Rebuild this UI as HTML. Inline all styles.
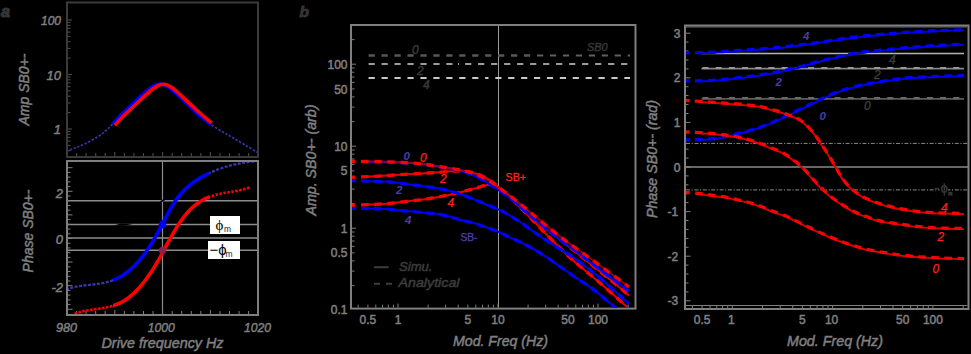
<!DOCTYPE html>
<html><head><meta charset="utf-8"><style>
html,body{margin:0;padding:0;background:#000;width:971px;height:354px;overflow:hidden;}
svg{display:block;}
text{font-family:"Liberation Sans",sans-serif;}
</style></head><body>
<svg width="971" height="354" viewBox="0 0 971 354">
<rect x="0" y="0" width="971" height="354" fill="#000"/>
<rect x="67" y="2.5" width="191" height="154.5" fill="none" stroke="#3a3a3a" stroke-width="2"/>
<line x1="68.0" y1="150.7" x2="70.5" y2="150.7" stroke="#4a4a4a" stroke-width="1.1"/>
<line x1="68.0" y1="145.4" x2="70.5" y2="145.4" stroke="#4a4a4a" stroke-width="1.1"/>
<line x1="68.0" y1="141.1" x2="70.5" y2="141.1" stroke="#4a4a4a" stroke-width="1.1"/>
<line x1="68.0" y1="137.4" x2="70.5" y2="137.4" stroke="#4a4a4a" stroke-width="1.1"/>
<line x1="68.0" y1="134.3" x2="70.5" y2="134.3" stroke="#4a4a4a" stroke-width="1.1"/>
<line x1="68.0" y1="131.5" x2="70.5" y2="131.5" stroke="#4a4a4a" stroke-width="1.1"/>
<line x1="68.0" y1="129.0" x2="72.0" y2="129.0" stroke="#4a4a4a" stroke-width="1.1"/>
<line x1="68.0" y1="112.6" x2="70.5" y2="112.6" stroke="#4a4a4a" stroke-width="1.1"/>
<line x1="68.0" y1="103.0" x2="70.5" y2="103.0" stroke="#4a4a4a" stroke-width="1.1"/>
<line x1="68.0" y1="96.2" x2="70.5" y2="96.2" stroke="#4a4a4a" stroke-width="1.1"/>
<line x1="68.0" y1="90.9" x2="70.5" y2="90.9" stroke="#4a4a4a" stroke-width="1.1"/>
<line x1="68.0" y1="86.6" x2="70.5" y2="86.6" stroke="#4a4a4a" stroke-width="1.1"/>
<line x1="68.0" y1="82.9" x2="70.5" y2="82.9" stroke="#4a4a4a" stroke-width="1.1"/>
<line x1="68.0" y1="79.8" x2="70.5" y2="79.8" stroke="#4a4a4a" stroke-width="1.1"/>
<line x1="68.0" y1="77.0" x2="70.5" y2="77.0" stroke="#4a4a4a" stroke-width="1.1"/>
<line x1="68.0" y1="74.5" x2="72.0" y2="74.5" stroke="#4a4a4a" stroke-width="1.1"/>
<line x1="68.0" y1="58.1" x2="70.5" y2="58.1" stroke="#4a4a4a" stroke-width="1.1"/>
<line x1="68.0" y1="48.5" x2="70.5" y2="48.5" stroke="#4a4a4a" stroke-width="1.1"/>
<line x1="68.0" y1="41.7" x2="70.5" y2="41.7" stroke="#4a4a4a" stroke-width="1.1"/>
<line x1="68.0" y1="36.4" x2="70.5" y2="36.4" stroke="#4a4a4a" stroke-width="1.1"/>
<line x1="68.0" y1="32.1" x2="70.5" y2="32.1" stroke="#4a4a4a" stroke-width="1.1"/>
<line x1="68.0" y1="28.4" x2="70.5" y2="28.4" stroke="#4a4a4a" stroke-width="1.1"/>
<line x1="68.0" y1="25.3" x2="70.5" y2="25.3" stroke="#4a4a4a" stroke-width="1.1"/>
<line x1="68.0" y1="22.5" x2="70.5" y2="22.5" stroke="#4a4a4a" stroke-width="1.1"/>
<line x1="68.0" y1="20.0" x2="72.0" y2="20.0" stroke="#4a4a4a" stroke-width="1.1"/>
<line x1="76.6" y1="156.0" x2="76.6" y2="153.0" stroke="#4a4a4a" stroke-width="1.1"/>
<line x1="86.1" y1="156.0" x2="86.1" y2="153.0" stroke="#4a4a4a" stroke-width="1.1"/>
<line x1="95.7" y1="156.0" x2="95.7" y2="153.0" stroke="#4a4a4a" stroke-width="1.1"/>
<line x1="105.2" y1="156.0" x2="105.2" y2="153.0" stroke="#4a4a4a" stroke-width="1.1"/>
<line x1="114.8" y1="156.0" x2="114.8" y2="152.0" stroke="#4a4a4a" stroke-width="1.1"/>
<line x1="124.4" y1="156.0" x2="124.4" y2="153.0" stroke="#4a4a4a" stroke-width="1.1"/>
<line x1="133.9" y1="156.0" x2="133.9" y2="153.0" stroke="#4a4a4a" stroke-width="1.1"/>
<line x1="143.5" y1="156.0" x2="143.5" y2="153.0" stroke="#4a4a4a" stroke-width="1.1"/>
<line x1="153.0" y1="156.0" x2="153.0" y2="153.0" stroke="#4a4a4a" stroke-width="1.1"/>
<line x1="162.6" y1="156.0" x2="162.6" y2="152.0" stroke="#4a4a4a" stroke-width="1.1"/>
<line x1="172.2" y1="156.0" x2="172.2" y2="153.0" stroke="#4a4a4a" stroke-width="1.1"/>
<line x1="181.7" y1="156.0" x2="181.7" y2="153.0" stroke="#4a4a4a" stroke-width="1.1"/>
<line x1="191.3" y1="156.0" x2="191.3" y2="153.0" stroke="#4a4a4a" stroke-width="1.1"/>
<line x1="200.8" y1="156.0" x2="200.8" y2="153.0" stroke="#4a4a4a" stroke-width="1.1"/>
<line x1="210.4" y1="156.0" x2="210.4" y2="152.0" stroke="#4a4a4a" stroke-width="1.1"/>
<line x1="220.0" y1="156.0" x2="220.0" y2="153.0" stroke="#4a4a4a" stroke-width="1.1"/>
<line x1="229.5" y1="156.0" x2="229.5" y2="153.0" stroke="#4a4a4a" stroke-width="1.1"/>
<line x1="239.1" y1="156.0" x2="239.1" y2="153.0" stroke="#4a4a4a" stroke-width="1.1"/>
<line x1="248.6" y1="156.0" x2="248.6" y2="153.0" stroke="#4a4a4a" stroke-width="1.1"/>
<clipPath id="ca1"><rect x="68" y="3.5" width="189" height="152.5"/></clipPath>
<g clip-path="url(#ca1)">
<path d="M66.0 151.3 C67.5 150.8 71.8 149.3 75.0 148.0 C78.2 146.7 81.6 145.6 85.4 143.7 C89.2 141.8 94.6 138.8 98.0 136.6 C101.4 134.4 103.4 132.8 106.0 130.5 C108.6 128.2 111.0 125.6 113.5 123.0 C116.0 120.4 118.2 117.8 121.0 115.0 C123.8 112.2 127.2 109.2 130.0 106.5 C132.8 103.8 135.5 101.3 138.0 99.0 C140.5 96.7 143.0 94.2 145.0 92.5 C147.0 90.8 148.5 89.6 150.0 88.5 C151.5 87.4 152.7 86.5 154.0 85.8 C155.3 85.1 156.8 84.6 158.0 84.3 C159.2 84.0 160.0 83.9 161.0 84.0 C162.0 84.1 162.8 84.3 164.0 84.8 C165.2 85.3 166.7 86.0 168.0 86.8 C169.3 87.6 170.3 88.4 172.0 89.8 C173.7 91.2 175.7 93.1 178.0 95.3 C180.3 97.5 183.3 100.3 186.0 102.8 C188.7 105.3 191.3 107.9 194.0 110.3 C196.7 112.7 199.3 115.0 202.0 117.3 C204.7 119.5 206.7 121.4 210.0 123.8 C213.3 126.2 218.2 129.2 222.0 131.5 C225.8 133.8 228.7 135.2 232.5 137.5 C236.3 139.8 240.6 142.4 245.0 145.0 C249.4 147.6 256.7 151.9 259.0 153.3" fill="none" stroke="#3434a8" stroke-width="1.7" stroke-dasharray="2.5 1.5" />
<path d="M112.5 124.0 C112.7 123.8 112.1 124.5 113.5 123.0 C114.9 121.5 118.2 117.8 121.0 115.0 C123.8 112.2 127.2 109.2 130.0 106.5 C132.8 103.8 135.5 101.3 138.0 99.0 C140.5 96.7 143.0 94.2 145.0 92.5 C147.0 90.8 148.5 89.6 150.0 88.5 C151.5 87.4 152.7 86.5 154.0 85.8 C155.3 85.1 156.8 84.6 158.0 84.3 C159.2 84.0 160.0 83.9 161.0 84.0 C162.0 84.1 162.8 84.3 164.0 84.8 C165.2 85.3 166.7 86.0 168.0 86.8 C169.3 87.6 170.3 88.4 172.0 89.8 C173.7 91.2 175.7 93.1 178.0 95.3 C180.3 97.5 183.3 100.3 186.0 102.8 C188.7 105.3 191.3 107.9 194.0 110.3 C196.7 112.7 199.3 115.0 202.0 117.3 C204.7 119.5 208.6 122.7 210.0 123.8 C211.4 124.9 210.4 124.1 210.5 124.1" fill="none" stroke="#0000ff" stroke-width="3.6" />
<path d="M114.7 125.3 C115.0 125.0 115.1 125.0 116.7 123.3 C118.3 121.6 121.5 118.0 124.2 115.3 C127.0 112.5 130.4 109.5 133.2 106.8 C136.0 104.1 138.7 101.6 141.2 99.3 C143.7 97.0 146.2 94.5 148.2 92.8 C150.2 91.0 151.7 89.9 153.2 88.8 C154.7 87.7 155.9 86.8 157.2 86.1 C158.5 85.4 160.0 84.9 161.2 84.6 C162.4 84.3 163.2 84.2 164.2 84.3 C165.2 84.4 166.0 84.6 167.2 85.1 C168.4 85.6 169.9 86.3 171.2 87.1 C172.5 87.9 173.5 88.7 175.2 90.1 C176.9 91.5 178.9 93.4 181.2 95.6 C183.5 97.8 186.5 100.6 189.2 103.1 C191.9 105.6 194.5 108.2 197.2 110.6 C199.9 113.0 202.8 115.6 205.2 117.6 C207.6 119.6 210.6 122.0 211.7 122.9" fill="none" stroke="#ff0000" stroke-width="3.6" />
</g>
<text x="61.0" y="24.5" font-size="13" fill="#7f7f7f" text-anchor="end" stroke="#7f7f7f" stroke-width="0.5" font-style="italic" textLength="20.0" lengthAdjust="spacingAndGlyphs">100</text>
<text x="61.0" y="79.5" font-size="13" fill="#7f7f7f" text-anchor="end" stroke="#7f7f7f" stroke-width="0.5" font-style="italic">10</text>
<text x="61.0" y="134.0" font-size="13" fill="#7f7f7f" text-anchor="end" stroke="#7f7f7f" stroke-width="0.5" font-style="italic">1</text>
<text x="29.0" y="89.5" font-size="14" fill="#7f7f7f" text-anchor="middle" stroke="#7f7f7f" stroke-width="0.5" font-style="italic" transform="rotate(-90 29.0 89.5)">Amp SB0+-</text>
<text x="1.0" y="16.8" font-size="16" fill="#353535" text-anchor="start" stroke="#353535" stroke-width="1.2" font-style="italic" font-weight="bold">a</text>
<rect x="67" y="161" width="191" height="154" fill="none" stroke="#7f7f7f" stroke-width="2"/>
<line x1="68.0" y1="200.8" x2="257.0" y2="200.8" stroke="#8c8c8c" stroke-width="1.5"/>
<line x1="68.0" y1="224.6" x2="257.0" y2="224.6" stroke="#8c8c8c" stroke-width="1.5"/>
<line x1="68.0" y1="238.1" x2="257.0" y2="238.1" stroke="#8c8c8c" stroke-width="1.5"/>
<line x1="68.0" y1="250.3" x2="257.0" y2="250.3" stroke="#8c8c8c" stroke-width="1.5"/>
<line x1="162.5" y1="162.0" x2="162.5" y2="314.0" stroke="#8c8c8c" stroke-width="1.2"/>
<line x1="68.0" y1="309.3" x2="72.5" y2="309.3" stroke="#7f7f7f" stroke-width="1"/>
<line x1="68.0" y1="304.6" x2="70.5" y2="304.6" stroke="#7f7f7f" stroke-width="1"/>
<line x1="68.0" y1="299.9" x2="70.5" y2="299.9" stroke="#7f7f7f" stroke-width="1"/>
<line x1="68.0" y1="295.1" x2="70.5" y2="295.1" stroke="#7f7f7f" stroke-width="1"/>
<line x1="68.0" y1="290.4" x2="70.5" y2="290.4" stroke="#7f7f7f" stroke-width="1"/>
<line x1="68.0" y1="285.7" x2="72.5" y2="285.7" stroke="#7f7f7f" stroke-width="1"/>
<line x1="68.0" y1="281.0" x2="70.5" y2="281.0" stroke="#7f7f7f" stroke-width="1"/>
<line x1="68.0" y1="276.3" x2="70.5" y2="276.3" stroke="#7f7f7f" stroke-width="1"/>
<line x1="68.0" y1="271.5" x2="70.5" y2="271.5" stroke="#7f7f7f" stroke-width="1"/>
<line x1="68.0" y1="266.8" x2="70.5" y2="266.8" stroke="#7f7f7f" stroke-width="1"/>
<line x1="68.0" y1="262.1" x2="72.5" y2="262.1" stroke="#7f7f7f" stroke-width="1"/>
<line x1="68.0" y1="257.4" x2="70.5" y2="257.4" stroke="#7f7f7f" stroke-width="1"/>
<line x1="68.0" y1="252.7" x2="70.5" y2="252.7" stroke="#7f7f7f" stroke-width="1"/>
<line x1="68.0" y1="247.9" x2="70.5" y2="247.9" stroke="#7f7f7f" stroke-width="1"/>
<line x1="68.0" y1="243.2" x2="70.5" y2="243.2" stroke="#7f7f7f" stroke-width="1"/>
<line x1="68.0" y1="238.5" x2="72.5" y2="238.5" stroke="#7f7f7f" stroke-width="1"/>
<line x1="68.0" y1="233.8" x2="70.5" y2="233.8" stroke="#7f7f7f" stroke-width="1"/>
<line x1="68.0" y1="229.1" x2="70.5" y2="229.1" stroke="#7f7f7f" stroke-width="1"/>
<line x1="68.0" y1="224.3" x2="70.5" y2="224.3" stroke="#7f7f7f" stroke-width="1"/>
<line x1="68.0" y1="219.6" x2="70.5" y2="219.6" stroke="#7f7f7f" stroke-width="1"/>
<line x1="68.0" y1="214.9" x2="72.5" y2="214.9" stroke="#7f7f7f" stroke-width="1"/>
<line x1="68.0" y1="210.2" x2="70.5" y2="210.2" stroke="#7f7f7f" stroke-width="1"/>
<line x1="68.0" y1="205.5" x2="70.5" y2="205.5" stroke="#7f7f7f" stroke-width="1"/>
<line x1="68.0" y1="200.7" x2="70.5" y2="200.7" stroke="#7f7f7f" stroke-width="1"/>
<line x1="68.0" y1="196.0" x2="70.5" y2="196.0" stroke="#7f7f7f" stroke-width="1"/>
<line x1="68.0" y1="191.3" x2="72.5" y2="191.3" stroke="#7f7f7f" stroke-width="1"/>
<line x1="68.0" y1="186.6" x2="70.5" y2="186.6" stroke="#7f7f7f" stroke-width="1"/>
<line x1="68.0" y1="181.9" x2="70.5" y2="181.9" stroke="#7f7f7f" stroke-width="1"/>
<line x1="68.0" y1="177.1" x2="70.5" y2="177.1" stroke="#7f7f7f" stroke-width="1"/>
<line x1="68.0" y1="172.4" x2="70.5" y2="172.4" stroke="#7f7f7f" stroke-width="1"/>
<line x1="68.0" y1="167.7" x2="72.5" y2="167.7" stroke="#7f7f7f" stroke-width="1"/>
<line x1="76.6" y1="314.0" x2="76.6" y2="311.0" stroke="#7f7f7f" stroke-width="1"/>
<line x1="86.1" y1="314.0" x2="86.1" y2="311.0" stroke="#7f7f7f" stroke-width="1"/>
<line x1="95.7" y1="314.0" x2="95.7" y2="311.0" stroke="#7f7f7f" stroke-width="1"/>
<line x1="105.2" y1="314.0" x2="105.2" y2="311.0" stroke="#7f7f7f" stroke-width="1"/>
<line x1="114.8" y1="314.0" x2="114.8" y2="310.0" stroke="#7f7f7f" stroke-width="1"/>
<line x1="124.4" y1="314.0" x2="124.4" y2="311.0" stroke="#7f7f7f" stroke-width="1"/>
<line x1="133.9" y1="314.0" x2="133.9" y2="311.0" stroke="#7f7f7f" stroke-width="1"/>
<line x1="143.5" y1="314.0" x2="143.5" y2="311.0" stroke="#7f7f7f" stroke-width="1"/>
<line x1="153.0" y1="314.0" x2="153.0" y2="311.0" stroke="#7f7f7f" stroke-width="1"/>
<line x1="162.6" y1="314.0" x2="162.6" y2="310.0" stroke="#7f7f7f" stroke-width="1"/>
<line x1="172.2" y1="314.0" x2="172.2" y2="311.0" stroke="#7f7f7f" stroke-width="1"/>
<line x1="181.7" y1="314.0" x2="181.7" y2="311.0" stroke="#7f7f7f" stroke-width="1"/>
<line x1="191.3" y1="314.0" x2="191.3" y2="311.0" stroke="#7f7f7f" stroke-width="1"/>
<line x1="200.8" y1="314.0" x2="200.8" y2="311.0" stroke="#7f7f7f" stroke-width="1"/>
<line x1="210.4" y1="314.0" x2="210.4" y2="310.0" stroke="#7f7f7f" stroke-width="1"/>
<line x1="220.0" y1="314.0" x2="220.0" y2="311.0" stroke="#7f7f7f" stroke-width="1"/>
<line x1="229.5" y1="314.0" x2="229.5" y2="311.0" stroke="#7f7f7f" stroke-width="1"/>
<line x1="239.1" y1="314.0" x2="239.1" y2="311.0" stroke="#7f7f7f" stroke-width="1"/>
<line x1="248.6" y1="314.0" x2="248.6" y2="311.0" stroke="#7f7f7f" stroke-width="1"/>
<clipPath id="ca2"><rect x="68" y="162" width="189" height="152"/></clipPath>
<g clip-path="url(#ca2)">
<path d="M66.0 289.6 C66.5 289.4 68.0 288.8 69.0 288.5 C70.0 288.2 71.0 287.9 72.0 287.6 C73.0 287.4 74.0 287.2 75.0 286.9 C76.0 286.7 77.0 286.5 78.0 286.4 C79.0 286.2 80.0 286.0 81.0 285.9 C82.0 285.7 83.0 285.6 84.0 285.5 C85.0 285.4 86.0 285.3 87.0 285.2 C88.0 285.0 89.0 284.9 90.0 284.8 C91.0 284.7 92.0 284.6 93.0 284.5 C94.0 284.4 95.0 284.3 96.0 284.2 C97.0 284.0 98.0 283.9 99.0 283.7 C100.0 283.6 101.0 283.4 102.0 283.2 C103.0 283.1 104.0 282.9 105.0 282.6 C106.0 282.4 107.0 282.2 108.0 281.9 C109.0 281.6 110.0 281.3 111.0 281.0 C112.0 280.6 113.4 280.1 114.0 279.8 C114.6 279.6 114.4 279.6 114.5 279.6" fill="none" stroke="#3838a8" stroke-width="2.3" stroke-dasharray="3 1.5" />
<path d="M208.0 173.8 C208.3 173.6 209.2 173.2 210.0 172.8 C210.8 172.4 212.0 171.9 213.0 171.4 C214.0 171.0 215.0 170.6 216.0 170.2 C217.0 169.8 218.0 169.4 219.0 169.0 C220.0 168.7 221.0 168.3 222.0 168.0 C223.0 167.6 224.0 167.3 225.0 167.0 C226.0 166.7 227.0 166.4 228.0 166.1 C229.0 165.8 230.0 165.6 231.0 165.3 C232.0 165.1 233.0 164.8 234.0 164.6 C235.0 164.4 236.0 164.2 237.0 163.9 C238.0 163.7 239.0 163.5 240.0 163.4 C241.0 163.2 242.0 163.0 243.0 162.8 C244.0 162.7 245.0 162.5 246.0 162.3 C247.0 162.2 248.0 162.1 249.0 161.9 C250.0 161.8 251.0 161.7 252.0 161.5 C253.0 161.4 254.0 161.3 255.0 161.2 C256.0 161.1 257.3 160.9 258.0 160.9 C258.7 160.8 258.8 160.8 259.0 160.8" fill="none" stroke="#3838a8" stroke-width="2.3" stroke-dasharray="3 1.5" />
<path d="M113.0 280.2 C113.2 280.1 113.3 280.1 114.0 279.8 C114.7 279.6 116.0 279.0 117.0 278.5 C118.0 278.0 119.0 277.5 120.0 276.9 C121.0 276.4 122.0 275.8 123.0 275.1 C124.0 274.5 125.0 273.8 126.0 273.0 C127.0 272.3 128.0 271.5 129.0 270.7 C130.0 269.9 131.0 269.0 132.0 268.1 C133.0 267.1 134.0 266.2 135.0 265.2 C136.0 264.1 137.0 263.1 138.0 262.0 C139.0 260.8 140.0 259.7 141.0 258.4 C142.0 257.2 143.0 255.9 144.0 254.6 C145.0 253.3 146.0 251.9 147.0 250.4 C148.0 249.0 149.0 247.5 150.0 245.9 C151.0 244.4 152.0 242.8 153.0 241.1 C154.0 239.4 155.0 237.7 156.0 235.9 C157.0 234.1 158.0 232.2 159.0 230.4 C160.0 228.5 161.0 226.5 162.0 224.6 C163.0 222.7 164.0 220.8 165.0 218.9 C166.0 217.0 167.0 215.1 168.0 213.3 C169.0 211.4 170.0 209.6 171.0 207.9 C172.0 206.2 173.0 204.5 174.0 203.0 C175.0 201.4 176.0 200.0 177.0 198.6 C178.0 197.3 179.0 196.0 180.0 194.8 C181.0 193.6 182.0 192.4 183.0 191.4 C184.0 190.3 185.0 189.3 186.0 188.4 C187.0 187.5 188.0 186.6 189.0 185.8 C190.0 184.9 191.0 184.2 192.0 183.4 C193.0 182.7 194.0 182.0 195.0 181.3 C196.0 180.6 197.0 180.0 198.0 179.3 C199.0 178.7 200.0 178.1 201.0 177.5 C202.0 176.9 203.0 176.4 204.0 175.8 C205.0 175.3 206.1 174.7 207.0 174.2 C207.9 173.8 209.1 173.2 209.5 173.0" fill="none" stroke="#0000ff" stroke-width="3.6" />
<path d="M74.7 313.9 C75.2 313.7 76.7 313.2 77.7 312.8 C78.7 312.5 79.7 312.2 80.7 311.9 C81.7 311.6 82.7 311.4 83.7 311.1 C84.7 310.9 85.7 310.7 86.7 310.5 C87.7 310.3 88.7 310.2 89.7 310.0 C90.7 309.8 91.7 309.7 92.7 309.5 C93.7 309.4 94.7 309.3 95.7 309.1 C96.7 309.0 97.7 308.8 98.7 308.7 C99.7 308.5 100.7 308.4 101.7 308.2 C102.7 308.1 103.7 307.9 104.7 307.7 C105.7 307.5 106.7 307.3 107.7 307.1 C108.7 306.9 109.7 306.7 110.7 306.4 C111.7 306.1 113.1 305.7 113.7 305.5 C114.3 305.3 114.4 305.3 114.5 305.2" fill="none" stroke="#ff0000" stroke-width="2.6" stroke-dasharray="2.5 1.5" />
<path d="M208.0 197.4 C208.3 197.3 208.9 197.0 209.7 196.7 C210.5 196.4 211.7 196.0 212.7 195.7 C213.7 195.4 214.7 195.1 215.7 194.8 C216.7 194.5 217.7 194.3 218.7 194.1 C219.7 193.8 220.7 193.6 221.7 193.4 C222.7 193.2 223.7 193.0 224.7 192.9 C225.7 192.7 226.7 192.5 227.7 192.4 C228.7 192.2 229.7 192.0 230.7 191.9 C231.7 191.7 232.7 191.6 233.7 191.4 C234.7 191.2 235.7 191.0 236.7 190.9 C237.7 190.7 238.7 190.5 239.7 190.3 C240.7 190.0 241.7 189.8 242.7 189.6 C243.7 189.3 244.7 189.0 245.7 188.7 C246.7 188.4 247.9 188.0 248.7 187.8 C249.5 187.5 250.0 187.3 250.3 187.2" fill="none" stroke="#ff0000" stroke-width="2.6" stroke-dasharray="2.5 1.5" />
<path d="M113.0 305.7 C113.1 305.7 113.1 305.7 113.7 305.5 C114.3 305.3 115.7 304.8 116.7 304.4 C117.7 304.0 118.7 303.6 119.7 303.1 C120.7 302.6 121.7 302.1 122.7 301.6 C123.7 301.0 124.7 300.4 125.7 299.7 C126.7 299.0 127.7 298.3 128.7 297.6 C129.7 296.8 130.7 296.0 131.7 295.1 C132.7 294.2 133.7 293.3 134.7 292.4 C135.7 291.4 136.7 290.4 137.7 289.3 C138.7 288.3 139.7 287.1 140.7 286.0 C141.7 284.8 142.7 283.6 143.7 282.3 C144.7 281.1 145.7 279.7 146.7 278.4 C147.7 277.0 148.7 275.6 149.7 274.1 C150.7 272.7 151.7 271.2 152.7 269.6 C153.7 268.0 154.7 266.4 155.7 264.8 C156.7 263.1 157.7 261.4 158.7 259.7 C159.7 257.9 160.7 256.1 161.7 254.3 C162.7 252.5 163.7 250.6 164.7 248.7 C165.7 246.9 166.7 245.0 167.7 243.2 C168.7 241.3 169.7 239.5 170.7 237.7 C171.7 235.9 172.7 234.1 173.7 232.4 C174.7 230.7 175.7 229.0 176.7 227.4 C177.7 225.8 178.7 224.3 179.7 222.8 C180.7 221.3 181.7 219.9 182.7 218.5 C183.7 217.2 184.7 215.9 185.7 214.7 C186.7 213.4 187.7 212.3 188.7 211.2 C189.7 210.1 190.7 209.1 191.7 208.2 C192.7 207.2 193.7 206.4 194.7 205.5 C195.7 204.7 196.7 203.9 197.7 203.2 C198.7 202.5 199.7 201.8 200.7 201.2 C201.7 200.6 202.7 200.0 203.7 199.5 C204.7 198.9 205.7 198.4 206.7 198.0 C207.7 197.5 209.0 197.0 209.5 196.8" fill="none" stroke="#ff0000" stroke-width="3.6" />
</g>
<path d="M113.5 225.4 L121 223.6 L133 223.9 L123 225.7 Z" fill="#000"/>
<path d="M160.5 202 L164.5 199.5" stroke="#000" stroke-width="1.6"/>
<circle cx="162.5" cy="224.6" r="3.8" fill="#0000ff"/>
<circle cx="162.5" cy="250.3" r="3.6" fill="#8c2050"/>
<rect x="210" y="216" width="30" height="18" fill="#ffffff"/>
<rect x="208" y="241" width="32" height="18" fill="#ffffff"/>
<text x="215.5" y="229.5" font-size="15" fill="#000" text-anchor="start" style="font-family:'Liberation Serif'">&#981;</text>
<text x="224.0" y="232.0" font-size="8.5" fill="#222" text-anchor="start">m</text>
<text x="209.5" y="254.5" font-size="15" fill="#000" text-anchor="start">&#8722;&#981;</text>
<text x="225.5" y="257.0" font-size="8.5" fill="#222" text-anchor="start">m</text>
<text x="63.0" y="197.5" font-size="13" fill="#7f7f7f" text-anchor="end" stroke="#7f7f7f" stroke-width="0.5" font-style="italic">2</text>
<text x="63.0" y="243.5" font-size="13" fill="#7f7f7f" text-anchor="end" stroke="#7f7f7f" stroke-width="0.5" font-style="italic">0</text>
<text x="63.0" y="291.5" font-size="13" fill="#7f7f7f" text-anchor="end" stroke="#7f7f7f" stroke-width="0.5" font-style="italic">-2</text>
<text x="32.5" y="231.0" font-size="14" fill="#7f7f7f" text-anchor="middle" stroke="#7f7f7f" stroke-width="0.5" font-style="italic" transform="rotate(-90 32.5 231.0)">Phase SB0+-</text>
<text x="66.5" y="332.0" font-size="13" fill="#7f7f7f" text-anchor="middle" stroke="#7f7f7f" stroke-width="0.5" font-style="italic" textLength="21.0" lengthAdjust="spacingAndGlyphs">980</text>
<text x="161.2" y="332.0" font-size="13" fill="#7f7f7f" text-anchor="middle" stroke="#7f7f7f" stroke-width="0.5" font-style="italic" textLength="27.0" lengthAdjust="spacingAndGlyphs">1000</text>
<text x="257.5" y="332.0" font-size="13" fill="#7f7f7f" text-anchor="middle" stroke="#7f7f7f" stroke-width="0.5" font-style="italic" textLength="27.0" lengthAdjust="spacingAndGlyphs">1020</text>
<text x="162.5" y="348.0" font-size="14" fill="#7f7f7f" text-anchor="middle" stroke="#7f7f7f" stroke-width="0.5" font-style="italic" textLength="122.0" lengthAdjust="spacingAndGlyphs">Drive frequency Hz</text>
<rect x="351" y="25" width="284.5" height="283.6" fill="none" stroke="#7f7f7f" stroke-width="2"/>
<line x1="498.5" y1="26.0" x2="498.5" y2="307.6" stroke="#9a9a9a" stroke-width="1"/>
<line x1="352.0" y1="285.6" x2="354.5" y2="285.6" stroke="#7f7f7f" stroke-width="1"/>
<line x1="352.0" y1="271.1" x2="354.5" y2="271.1" stroke="#7f7f7f" stroke-width="1"/>
<line x1="352.0" y1="260.9" x2="354.5" y2="260.9" stroke="#7f7f7f" stroke-width="1"/>
<line x1="352.0" y1="252.9" x2="354.5" y2="252.9" stroke="#7f7f7f" stroke-width="1"/>
<line x1="352.0" y1="246.4" x2="354.5" y2="246.4" stroke="#7f7f7f" stroke-width="1"/>
<line x1="352.0" y1="241.0" x2="354.5" y2="241.0" stroke="#7f7f7f" stroke-width="1"/>
<line x1="352.0" y1="236.2" x2="354.5" y2="236.2" stroke="#7f7f7f" stroke-width="1"/>
<line x1="352.0" y1="232.0" x2="354.5" y2="232.0" stroke="#7f7f7f" stroke-width="1"/>
<line x1="352.0" y1="228.2" x2="356.0" y2="228.2" stroke="#7f7f7f" stroke-width="1"/>
<line x1="352.0" y1="203.6" x2="354.5" y2="203.6" stroke="#7f7f7f" stroke-width="1"/>
<line x1="352.0" y1="189.1" x2="354.5" y2="189.1" stroke="#7f7f7f" stroke-width="1"/>
<line x1="352.0" y1="178.9" x2="354.5" y2="178.9" stroke="#7f7f7f" stroke-width="1"/>
<line x1="352.0" y1="170.9" x2="354.5" y2="170.9" stroke="#7f7f7f" stroke-width="1"/>
<line x1="352.0" y1="164.4" x2="354.5" y2="164.4" stroke="#7f7f7f" stroke-width="1"/>
<line x1="352.0" y1="159.0" x2="354.5" y2="159.0" stroke="#7f7f7f" stroke-width="1"/>
<line x1="352.0" y1="154.2" x2="354.5" y2="154.2" stroke="#7f7f7f" stroke-width="1"/>
<line x1="352.0" y1="150.0" x2="354.5" y2="150.0" stroke="#7f7f7f" stroke-width="1"/>
<line x1="352.0" y1="146.2" x2="356.0" y2="146.2" stroke="#7f7f7f" stroke-width="1"/>
<line x1="352.0" y1="121.6" x2="354.5" y2="121.6" stroke="#7f7f7f" stroke-width="1"/>
<line x1="352.0" y1="107.1" x2="354.5" y2="107.1" stroke="#7f7f7f" stroke-width="1"/>
<line x1="352.0" y1="96.9" x2="354.5" y2="96.9" stroke="#7f7f7f" stroke-width="1"/>
<line x1="352.0" y1="88.9" x2="354.5" y2="88.9" stroke="#7f7f7f" stroke-width="1"/>
<line x1="352.0" y1="82.4" x2="354.5" y2="82.4" stroke="#7f7f7f" stroke-width="1"/>
<line x1="352.0" y1="77.0" x2="354.5" y2="77.0" stroke="#7f7f7f" stroke-width="1"/>
<line x1="352.0" y1="72.2" x2="354.5" y2="72.2" stroke="#7f7f7f" stroke-width="1"/>
<line x1="352.0" y1="68.0" x2="354.5" y2="68.0" stroke="#7f7f7f" stroke-width="1"/>
<line x1="352.0" y1="64.2" x2="356.0" y2="64.2" stroke="#7f7f7f" stroke-width="1"/>
<line x1="352.0" y1="39.6" x2="354.5" y2="39.6" stroke="#7f7f7f" stroke-width="1"/>
<line x1="358.2" y1="307.6" x2="358.2" y2="304.6" stroke="#7f7f7f" stroke-width="1"/>
<line x1="367.9" y1="307.6" x2="367.9" y2="304.6" stroke="#7f7f7f" stroke-width="1"/>
<line x1="375.8" y1="307.6" x2="375.8" y2="304.6" stroke="#7f7f7f" stroke-width="1"/>
<line x1="382.5" y1="307.6" x2="382.5" y2="304.6" stroke="#7f7f7f" stroke-width="1"/>
<line x1="388.3" y1="307.6" x2="388.3" y2="304.6" stroke="#7f7f7f" stroke-width="1"/>
<line x1="393.4" y1="307.6" x2="393.4" y2="304.6" stroke="#7f7f7f" stroke-width="1"/>
<line x1="398.0" y1="307.6" x2="398.0" y2="303.6" stroke="#7f7f7f" stroke-width="1"/>
<line x1="428.1" y1="307.6" x2="428.1" y2="304.6" stroke="#7f7f7f" stroke-width="1"/>
<line x1="445.7" y1="307.6" x2="445.7" y2="304.6" stroke="#7f7f7f" stroke-width="1"/>
<line x1="458.2" y1="307.6" x2="458.2" y2="304.6" stroke="#7f7f7f" stroke-width="1"/>
<line x1="467.9" y1="307.6" x2="467.9" y2="304.6" stroke="#7f7f7f" stroke-width="1"/>
<line x1="475.8" y1="307.6" x2="475.8" y2="304.6" stroke="#7f7f7f" stroke-width="1"/>
<line x1="482.5" y1="307.6" x2="482.5" y2="304.6" stroke="#7f7f7f" stroke-width="1"/>
<line x1="488.3" y1="307.6" x2="488.3" y2="304.6" stroke="#7f7f7f" stroke-width="1"/>
<line x1="493.4" y1="307.6" x2="493.4" y2="304.6" stroke="#7f7f7f" stroke-width="1"/>
<line x1="498.0" y1="307.6" x2="498.0" y2="303.6" stroke="#7f7f7f" stroke-width="1"/>
<line x1="528.1" y1="307.6" x2="528.1" y2="304.6" stroke="#7f7f7f" stroke-width="1"/>
<line x1="545.7" y1="307.6" x2="545.7" y2="304.6" stroke="#7f7f7f" stroke-width="1"/>
<line x1="558.2" y1="307.6" x2="558.2" y2="304.6" stroke="#7f7f7f" stroke-width="1"/>
<line x1="567.9" y1="307.6" x2="567.9" y2="304.6" stroke="#7f7f7f" stroke-width="1"/>
<line x1="575.8" y1="307.6" x2="575.8" y2="304.6" stroke="#7f7f7f" stroke-width="1"/>
<line x1="582.5" y1="307.6" x2="582.5" y2="304.6" stroke="#7f7f7f" stroke-width="1"/>
<line x1="588.3" y1="307.6" x2="588.3" y2="304.6" stroke="#7f7f7f" stroke-width="1"/>
<line x1="593.4" y1="307.6" x2="593.4" y2="304.6" stroke="#7f7f7f" stroke-width="1"/>
<line x1="598.0" y1="307.6" x2="598.0" y2="303.6" stroke="#7f7f7f" stroke-width="1"/>
<line x1="628.1" y1="307.6" x2="628.1" y2="304.6" stroke="#7f7f7f" stroke-width="1"/>
<text x="347.5" y="68.5" font-size="12" fill="#7f7f7f" text-anchor="end" stroke="#7f7f7f" stroke-width="0.5">100</text>
<text x="347.5" y="93.5" font-size="12" fill="#7f7f7f" text-anchor="end" stroke="#7f7f7f" stroke-width="0.5">50</text>
<text x="347.5" y="150.5" font-size="12" fill="#7f7f7f" text-anchor="end" stroke="#7f7f7f" stroke-width="0.5">10</text>
<text x="347.5" y="174.5" font-size="12" fill="#7f7f7f" text-anchor="end" stroke="#7f7f7f" stroke-width="0.5">5</text>
<text x="347.5" y="232.5" font-size="12" fill="#7f7f7f" text-anchor="end" stroke="#7f7f7f" stroke-width="0.5">1</text>
<text x="347.5" y="256.5" font-size="12" fill="#7f7f7f" text-anchor="end" stroke="#7f7f7f" stroke-width="0.5">0.5</text>
<text x="347.5" y="314.0" font-size="12" fill="#7f7f7f" text-anchor="end" stroke="#7f7f7f" stroke-width="0.5">0.1</text>
<text x="367.9" y="323.5" font-size="12" fill="#7f7f7f" text-anchor="middle" stroke="#7f7f7f" stroke-width="0.5">0.5</text>
<text x="398.0" y="323.5" font-size="12" fill="#7f7f7f" text-anchor="middle" stroke="#7f7f7f" stroke-width="0.5">1</text>
<text x="467.9" y="323.5" font-size="12" fill="#7f7f7f" text-anchor="middle" stroke="#7f7f7f" stroke-width="0.5">5</text>
<text x="498.0" y="323.5" font-size="12" fill="#7f7f7f" text-anchor="middle" stroke="#7f7f7f" stroke-width="0.5">10</text>
<text x="567.9" y="323.5" font-size="12" fill="#7f7f7f" text-anchor="middle" stroke="#7f7f7f" stroke-width="0.5">50</text>
<text x="598.0" y="323.5" font-size="12" fill="#7f7f7f" text-anchor="middle" stroke="#7f7f7f" stroke-width="0.5">100</text>
<text x="500.5" y="346.0" font-size="14" fill="#7f7f7f" text-anchor="middle" stroke="#7f7f7f" stroke-width="0.5" font-style="italic" textLength="95.0" lengthAdjust="spacingAndGlyphs">Mod. Freq (Hz)</text>
<text x="316.0" y="160.0" font-size="14" fill="#7f7f7f" text-anchor="middle" stroke="#7f7f7f" stroke-width="0.5" font-style="italic" transform="rotate(-90 316.0 160.0)" textLength="111.0" lengthAdjust="spacingAndGlyphs">Amp. SB0+- (arb)</text>
<text x="299.5" y="16.6" font-size="15.5" fill="#353535" text-anchor="start" stroke="#353535" stroke-width="0.9" font-style="italic" font-weight="bold">b</text>
<line x1="368.6" y1="55.5" x2="531.0" y2="55.5" stroke="#585858" stroke-width="2.6" stroke-dasharray="6.2 6.75"/>
<line x1="537.0" y1="55.5" x2="630.0" y2="55.5" stroke="#606060" stroke-width="2.0" stroke-dasharray="6.2 6.75"/>
<line x1="368.6" y1="64.0" x2="458.8" y2="64.0" stroke="#9c9c9c" stroke-width="2.0" stroke-dasharray="6.2 6.75"/>
<line x1="458.0" y1="64.0" x2="459.0" y2="64.0" stroke="#9c9c9c" stroke-width="2.0"/>
<line x1="465.1" y1="64.0" x2="630.0" y2="64.0" stroke="#9c9c9c" stroke-width="2.0" stroke-dasharray="6.2 6.8"/>
<line x1="368.6" y1="78.0" x2="488.5" y2="78.0" stroke="#c8c8c8" stroke-width="2.0" stroke-dasharray="6.2 6.75"/>
<line x1="495.3" y1="78.0" x2="630.0" y2="78.0" stroke="#c8c8c8" stroke-width="2.0" stroke-dasharray="6.2 6.7"/>
<text x="412.0" y="53.5" font-size="12" fill="#383838" text-anchor="start" stroke="#383838" stroke-width="0.5" font-style="italic">0</text>
<text x="417.0" y="74.5" font-size="12" fill="#383838" text-anchor="start" stroke="#383838" stroke-width="0.5" font-style="italic">2</text>
<text x="423.0" y="88.5" font-size="12" fill="#383838" text-anchor="start" stroke="#383838" stroke-width="0.5" font-style="italic">4</text>
<text x="587.0" y="51.0" font-size="11.5" fill="#383838" text-anchor="start" stroke="#383838" stroke-width="0.45" font-style="italic" textLength="20.5" lengthAdjust="spacingAndGlyphs">SB0</text>
<clipPath id="cb"><rect x="352" y="26" width="282.5" height="281.6"/></clipPath>
<g clip-path="url(#cb)">
<path d="M361.0 208.5 C362.5 208.5 365.2 208.5 370.0 208.6 C374.8 208.7 384.5 209.0 389.5 209.3 C394.5 209.6 394.9 210.0 400.0 210.5 C405.1 211.0 413.5 211.7 420.0 212.3 C426.5 212.9 434.0 213.4 439.0 214.2 C444.0 214.9 446.7 215.9 450.0 216.8 C453.3 217.7 454.9 218.4 459.0 219.5 C463.1 220.6 470.0 222.0 474.5 223.3 C479.0 224.6 482.0 225.9 486.0 227.3 C490.0 228.7 494.5 230.1 498.5 231.8 C502.5 233.5 506.4 235.7 510.0 237.4 C513.6 239.1 516.7 240.4 520.0 242.0 C523.3 243.6 526.7 245.2 530.0 247.0 C533.3 248.8 536.7 250.9 540.0 253.0 C543.3 255.1 546.7 257.2 550.0 259.5 C553.3 261.8 555.8 263.6 560.0 266.5 C564.2 269.4 569.2 272.9 575.0 277.0 C580.8 281.1 587.8 285.3 595.0 290.8 C602.2 296.3 614.2 306.8 618.0 310.0" fill="none" stroke="#0000f0" stroke-width="2" stroke-opacity="1.0"/>
<path d="M348.0 208.3 C351.7 208.4 363.1 208.4 370.0 208.6 C376.9 208.8 384.5 209.0 389.5 209.3 C394.5 209.6 394.9 210.0 400.0 210.5 C405.1 211.0 413.5 211.7 420.0 212.3 C426.5 212.9 434.0 213.4 439.0 214.2 C444.0 214.9 446.7 215.9 450.0 216.8 C453.3 217.7 454.9 218.4 459.0 219.5 C463.1 220.6 470.0 222.0 474.5 223.3 C479.0 224.6 482.0 225.9 486.0 227.3 C490.0 228.7 494.5 230.1 498.5 231.8 C502.5 233.5 506.4 235.7 510.0 237.4 C513.6 239.1 516.7 240.4 520.0 242.0 C523.3 243.6 526.7 245.2 530.0 247.0 C533.3 248.8 536.7 250.9 540.0 253.0 C543.3 255.1 546.7 257.2 550.0 259.5 C553.3 261.8 555.8 263.6 560.0 266.5 C564.2 269.4 569.2 272.9 575.0 277.0 C580.8 281.1 587.8 285.3 595.0 290.8 C602.2 296.3 614.2 306.8 618.0 310.0" fill="none" stroke="#0000ff" stroke-width="3.3" stroke-dasharray="7.4 5.7" />
<path d="M361.0 204.9 C362.5 204.8 365.2 204.8 370.0 204.5 C374.8 204.2 382.8 204.0 389.5 203.4 C396.2 202.8 404.1 201.7 410.0 201.0 C415.9 200.3 420.2 199.9 425.0 199.2 C429.8 198.5 433.7 198.0 439.0 197.0 C444.3 196.0 451.2 194.4 457.0 193.0 C462.8 191.6 468.9 189.9 474.0 188.6 C479.1 187.3 483.8 185.3 487.5 185.0 C491.2 184.7 493.1 185.2 496.0 186.5 C498.9 187.8 501.7 189.7 505.0 192.5 C508.3 195.3 511.8 199.3 516.0 203.5 C520.2 207.7 525.2 212.6 530.0 217.5 C534.8 222.4 540.0 227.9 545.0 233.0 C550.0 238.1 555.0 243.2 560.0 248.0 C565.0 252.8 568.3 256.2 575.0 262.0 C581.7 267.8 591.3 275.5 600.0 283.0 C608.7 290.5 622.5 303.0 627.0 307.0" fill="none" stroke="#e80000" stroke-width="2" stroke-opacity="1.0"/>
<path d="M348.0 205.5 C351.7 205.3 363.1 204.8 370.0 204.5 C376.9 204.2 382.8 204.0 389.5 203.4 C396.2 202.8 404.1 201.7 410.0 201.0 C415.9 200.3 420.2 199.9 425.0 199.2 C429.8 198.5 433.7 198.0 439.0 197.0 C444.3 196.0 451.2 194.4 457.0 193.0 C462.8 191.6 468.9 189.9 474.0 188.6 C479.1 187.3 483.8 185.3 487.5 185.0 C491.2 184.7 493.1 185.2 496.0 186.5 C498.9 187.8 501.7 189.7 505.0 192.5 C508.3 195.3 511.8 199.3 516.0 203.5 C520.2 207.7 525.2 212.6 530.0 217.5 C534.8 222.4 540.0 227.9 545.0 233.0 C550.0 238.1 555.0 243.2 560.0 248.0 C565.0 252.8 568.3 256.2 575.0 262.0 C581.7 267.8 591.3 275.5 600.0 283.0 C608.7 290.5 622.5 303.0 627.0 307.0" fill="none" stroke="#ff0000" stroke-width="3.3" stroke-dasharray="7.4 5.7" />
<path d="M361.0 181.0 C362.5 181.0 365.2 181.0 370.0 181.2 C374.8 181.4 382.8 181.4 389.5 182.0 C396.2 182.6 401.8 183.4 410.0 184.5 C418.2 185.6 431.2 187.1 439.0 188.5 C446.8 189.9 451.2 191.2 457.0 193.0 C462.8 194.8 468.3 197.2 474.0 199.4 C479.7 201.7 486.7 204.7 491.0 206.5 C495.3 208.3 497.0 208.6 500.0 210.0 C503.0 211.4 505.2 212.7 509.0 215.0 C512.8 217.3 518.7 221.1 523.0 224.0 C527.3 226.9 529.7 229.0 535.0 232.7 C540.3 236.4 548.3 241.7 555.0 246.0 C561.7 250.3 567.5 253.2 575.0 258.5 C582.5 263.8 591.0 270.4 600.0 278.0 C609.0 285.6 624.2 299.7 629.0 304.0" fill="none" stroke="#0000f0" stroke-width="2" stroke-opacity="1.0"/>
<path d="M348.0 180.6 C351.7 180.7 363.1 181.0 370.0 181.2 C376.9 181.4 382.8 181.4 389.5 182.0 C396.2 182.6 401.8 183.4 410.0 184.5 C418.2 185.6 431.2 187.1 439.0 188.5 C446.8 189.9 451.2 191.2 457.0 193.0 C462.8 194.8 468.3 197.2 474.0 199.4 C479.7 201.7 486.7 204.7 491.0 206.5 C495.3 208.3 497.0 208.6 500.0 210.0 C503.0 211.4 505.2 212.7 509.0 215.0 C512.8 217.3 518.7 221.1 523.0 224.0 C527.3 226.9 529.7 229.0 535.0 232.7 C540.3 236.4 548.3 241.7 555.0 246.0 C561.7 250.3 567.5 253.2 575.0 258.5 C582.5 263.8 591.0 270.4 600.0 278.0 C609.0 285.6 624.2 299.7 629.0 304.0" fill="none" stroke="#0000ff" stroke-width="3.3" stroke-dasharray="7.4 5.7" />
<path d="M361.0 176.9 C362.5 176.8 365.2 176.8 370.0 176.5 C374.8 176.2 383.3 175.7 390.0 175.3 C396.7 174.9 404.2 174.3 410.0 174.0 C415.8 173.7 420.2 173.5 425.0 173.2 C429.8 172.9 434.8 172.6 439.0 172.3 C443.2 172.0 446.5 171.5 450.0 171.3 C453.5 171.1 456.7 170.9 460.0 171.0 C463.3 171.1 466.7 171.3 470.0 172.0 C473.3 172.7 476.5 173.5 480.0 175.0 C483.5 176.5 487.7 178.8 491.0 181.0 C494.3 183.2 496.0 185.2 500.0 188.5 C504.0 191.8 510.0 196.4 515.0 201.0 C520.0 205.6 525.0 211.5 530.0 216.0 C535.0 220.5 540.0 224.1 545.0 228.0 C550.0 231.9 555.0 235.6 560.0 239.5 C565.0 243.4 568.3 246.2 575.0 251.5 C581.7 256.8 591.0 264.2 600.0 271.5 C609.0 278.8 624.2 291.4 629.0 295.4" fill="none" stroke="#e80000" stroke-width="2" stroke-opacity="1.0"/>
<path d="M348.0 177.4 C351.7 177.2 363.0 176.8 370.0 176.5 C377.0 176.2 383.3 175.7 390.0 175.3 C396.7 174.9 404.2 174.3 410.0 174.0 C415.8 173.7 420.2 173.5 425.0 173.2 C429.8 172.9 434.8 172.6 439.0 172.3 C443.2 172.0 446.5 171.5 450.0 171.3 C453.5 171.1 456.7 170.9 460.0 171.0 C463.3 171.1 466.7 171.3 470.0 172.0 C473.3 172.7 476.5 173.5 480.0 175.0 C483.5 176.5 487.7 178.8 491.0 181.0 C494.3 183.2 496.0 185.2 500.0 188.5 C504.0 191.8 510.0 196.4 515.0 201.0 C520.0 205.6 525.0 211.5 530.0 216.0 C535.0 220.5 540.0 224.1 545.0 228.0 C550.0 231.9 555.0 235.6 560.0 239.5 C565.0 243.4 568.3 246.2 575.0 251.5 C581.7 256.8 591.0 264.2 600.0 271.5 C609.0 278.8 624.2 291.4 629.0 295.4" fill="none" stroke="#ff0000" stroke-width="3.3" stroke-dasharray="7.4 5.7" />
<path d="M361.0 161.7 C364.2 161.8 372.0 161.7 380.0 161.9 C388.0 162.1 401.5 162.7 409.0 163.1 C416.5 163.5 420.0 163.9 425.0 164.6 C430.0 165.2 433.7 166.1 439.0 167.0 C444.3 167.9 451.2 168.9 457.0 170.3 C462.8 171.7 468.3 173.1 474.0 175.5 C479.7 177.9 486.7 182.4 491.0 185.0 C495.3 187.6 495.8 188.0 500.0 191.0 C504.2 194.0 511.0 198.9 516.0 203.0 C521.0 207.1 525.2 211.4 530.0 215.5 C534.8 219.6 540.0 223.5 545.0 227.5 C550.0 231.5 555.0 235.7 560.0 239.5 C565.0 243.3 568.3 245.5 575.0 250.5 C581.7 255.5 591.0 262.8 600.0 269.5 C609.0 276.2 624.2 287.4 629.0 291.0" fill="none" stroke="#0000f0" stroke-width="2" stroke-opacity="1.0"/>
<path d="M348.0 161.6 C353.3 161.7 369.8 161.7 380.0 161.9 C390.2 162.2 401.5 162.7 409.0 163.1 C416.5 163.5 420.0 163.9 425.0 164.6 C430.0 165.2 433.7 166.1 439.0 167.0 C444.3 167.9 451.2 168.9 457.0 170.3 C462.8 171.7 468.3 173.1 474.0 175.5 C479.7 177.9 486.7 182.4 491.0 185.0 C495.3 187.6 495.8 188.0 500.0 191.0 C504.2 194.0 511.0 198.9 516.0 203.0 C521.0 207.1 525.2 211.4 530.0 215.5 C534.8 219.6 540.0 223.5 545.0 227.5 C550.0 231.5 555.0 235.7 560.0 239.5 C565.0 243.3 568.3 245.5 575.0 250.5 C581.7 255.5 591.0 262.8 600.0 269.5 C609.0 276.2 624.2 287.4 629.0 291.0" fill="none" stroke="#0000ff" stroke-width="3.3" stroke-dasharray="7.4 5.7" />
<path d="M361.0 161.4 C364.2 161.5 372.0 161.4 380.0 161.6 C388.0 161.8 401.5 162.4 409.0 162.8 C416.5 163.2 420.0 163.7 425.0 164.3 C430.0 164.9 433.7 165.7 439.0 166.5 C444.3 167.3 451.2 168.2 457.0 169.4 C462.8 170.6 468.3 171.5 474.0 173.6 C479.7 175.7 486.7 179.5 491.0 182.0 C495.3 184.5 495.8 185.4 500.0 188.5 C504.2 191.6 511.0 196.6 516.0 200.5 C521.0 204.4 525.2 208.0 530.0 212.0 C534.8 216.0 540.0 220.4 545.0 224.5 C550.0 228.6 555.0 232.7 560.0 236.5 C565.0 240.3 568.3 242.7 575.0 247.5 C581.7 252.3 591.0 258.9 600.0 265.5 C609.0 272.1 624.2 283.4 629.0 287.0" fill="none" stroke="#c00000" stroke-width="2" stroke-opacity="0.75"/>
<path d="M348.0 161.3 C353.3 161.4 369.8 161.3 380.0 161.6 C390.2 161.8 401.5 162.4 409.0 162.8 C416.5 163.2 420.0 163.7 425.0 164.3 C430.0 164.9 433.7 165.7 439.0 166.5 C444.3 167.3 451.2 168.2 457.0 169.4 C462.8 170.6 468.3 171.5 474.0 173.6 C479.7 175.7 486.7 179.5 491.0 182.0 C495.3 184.5 495.8 185.4 500.0 188.5 C504.2 191.6 511.0 196.6 516.0 200.5 C521.0 204.4 525.2 208.0 530.0 212.0 C534.8 216.0 540.0 220.4 545.0 224.5 C550.0 228.6 555.0 232.7 560.0 236.5 C565.0 240.3 568.3 242.7 575.0 247.5 C581.7 252.3 591.0 258.9 600.0 265.5 C609.0 272.1 624.2 283.4 629.0 287.0" fill="none" stroke="#ff0000" stroke-width="3.3" stroke-dasharray="7.4 5.7" />
</g>
<text x="403.5" y="160.0" font-size="11.5" fill="#4a3ca8" text-anchor="start" font-style="italic" font-weight="bold">0</text>
<text x="396.0" y="193.5" font-size="11.5" fill="#4a3ca8" text-anchor="start" font-style="italic" font-weight="bold">2</text>
<text x="405.0" y="223.5" font-size="11.5" fill="#4a3ca8" text-anchor="start" font-style="italic" font-weight="bold">4</text>
<text x="420.0" y="161.5" font-size="12" fill="#ff2020" text-anchor="start" stroke="#ff2020" stroke-width="0.25" font-style="italic">0</text>
<text x="440.0" y="183.0" font-size="12" fill="#ff2020" text-anchor="start" stroke="#ff2020" stroke-width="0.25" font-style="italic">2</text>
<text x="447.5" y="206.5" font-size="12" fill="#ff2020" text-anchor="start" stroke="#ff2020" stroke-width="0.25" font-style="italic">4</text>
<text x="505.5" y="180.5" font-size="11" fill="#ff2020" text-anchor="start" stroke="#ff2020" stroke-width="0.3" textLength="20.5" lengthAdjust="spacingAndGlyphs">SB+</text>
<text x="460.5" y="241.0" font-size="11" fill="#4a3ca8" text-anchor="start" stroke="#4a3ca8" stroke-width="0.4" textLength="17.0" lengthAdjust="spacingAndGlyphs">SB-</text>
<line x1="374.0" y1="267.2" x2="388.7" y2="267.2" stroke="#3c3c3c" stroke-width="2"/>
<line x1="374.0" y1="283.8" x2="392.0" y2="283.8" stroke="#3c3c3c" stroke-width="2" stroke-dasharray="6 6"/>
<text x="399.0" y="271.3" font-size="13" fill="#3c3c3c" text-anchor="start" stroke="#3c3c3c" stroke-width="0.5" font-style="italic" textLength="33.5" lengthAdjust="spacingAndGlyphs">Simu.</text>
<text x="398.5" y="286.8" font-size="13" fill="#3c3c3c" text-anchor="start" stroke="#3c3c3c" stroke-width="0.5" font-style="italic" textLength="61.0" lengthAdjust="spacingAndGlyphs">Analytical</text>
<rect x="685" y="25.5" width="283.5" height="283.5" fill="none" stroke="#7f7f7f" stroke-width="2"/>
<line x1="686.0" y1="26.8" x2="967.5" y2="26.8" stroke="#6a6a6a" stroke-width="1.2"/>
<line x1="686.0" y1="305.5" x2="967.5" y2="305.5" stroke="#7f7f7f" stroke-width="1.2"/>
<line x1="686.0" y1="300.8" x2="690.5" y2="300.8" stroke="#7f7f7f" stroke-width="1"/>
<line x1="686.0" y1="291.9" x2="688.5" y2="291.9" stroke="#7f7f7f" stroke-width="1"/>
<line x1="686.0" y1="283.0" x2="688.5" y2="283.0" stroke="#7f7f7f" stroke-width="1"/>
<line x1="686.0" y1="274.0" x2="688.5" y2="274.0" stroke="#7f7f7f" stroke-width="1"/>
<line x1="686.0" y1="265.1" x2="688.5" y2="265.1" stroke="#7f7f7f" stroke-width="1"/>
<line x1="686.0" y1="256.2" x2="690.5" y2="256.2" stroke="#7f7f7f" stroke-width="1"/>
<line x1="686.0" y1="247.3" x2="688.5" y2="247.3" stroke="#7f7f7f" stroke-width="1"/>
<line x1="686.0" y1="238.4" x2="688.5" y2="238.4" stroke="#7f7f7f" stroke-width="1"/>
<line x1="686.0" y1="229.4" x2="688.5" y2="229.4" stroke="#7f7f7f" stroke-width="1"/>
<line x1="686.0" y1="220.5" x2="688.5" y2="220.5" stroke="#7f7f7f" stroke-width="1"/>
<line x1="686.0" y1="211.6" x2="690.5" y2="211.6" stroke="#7f7f7f" stroke-width="1"/>
<line x1="686.0" y1="202.7" x2="688.5" y2="202.7" stroke="#7f7f7f" stroke-width="1"/>
<line x1="686.0" y1="193.8" x2="688.5" y2="193.8" stroke="#7f7f7f" stroke-width="1"/>
<line x1="686.0" y1="184.8" x2="688.5" y2="184.8" stroke="#7f7f7f" stroke-width="1"/>
<line x1="686.0" y1="175.9" x2="688.5" y2="175.9" stroke="#7f7f7f" stroke-width="1"/>
<line x1="686.0" y1="167.0" x2="690.5" y2="167.0" stroke="#7f7f7f" stroke-width="1"/>
<line x1="686.0" y1="158.1" x2="688.5" y2="158.1" stroke="#7f7f7f" stroke-width="1"/>
<line x1="686.0" y1="149.2" x2="688.5" y2="149.2" stroke="#7f7f7f" stroke-width="1"/>
<line x1="686.0" y1="140.2" x2="688.5" y2="140.2" stroke="#7f7f7f" stroke-width="1"/>
<line x1="686.0" y1="131.3" x2="688.5" y2="131.3" stroke="#7f7f7f" stroke-width="1"/>
<line x1="686.0" y1="122.4" x2="690.5" y2="122.4" stroke="#7f7f7f" stroke-width="1"/>
<line x1="686.0" y1="113.5" x2="688.5" y2="113.5" stroke="#7f7f7f" stroke-width="1"/>
<line x1="686.0" y1="104.6" x2="688.5" y2="104.6" stroke="#7f7f7f" stroke-width="1"/>
<line x1="686.0" y1="95.6" x2="688.5" y2="95.6" stroke="#7f7f7f" stroke-width="1"/>
<line x1="686.0" y1="86.7" x2="688.5" y2="86.7" stroke="#7f7f7f" stroke-width="1"/>
<line x1="686.0" y1="77.8" x2="690.5" y2="77.8" stroke="#7f7f7f" stroke-width="1"/>
<line x1="686.0" y1="68.9" x2="688.5" y2="68.9" stroke="#7f7f7f" stroke-width="1"/>
<line x1="686.0" y1="60.0" x2="688.5" y2="60.0" stroke="#7f7f7f" stroke-width="1"/>
<line x1="686.0" y1="51.0" x2="688.5" y2="51.0" stroke="#7f7f7f" stroke-width="1"/>
<line x1="686.0" y1="42.1" x2="688.5" y2="42.1" stroke="#7f7f7f" stroke-width="1"/>
<line x1="686.0" y1="33.2" x2="690.5" y2="33.2" stroke="#7f7f7f" stroke-width="1"/>
<line x1="692.4" y1="308.0" x2="692.4" y2="305.5" stroke="#7f7f7f" stroke-width="1"/>
<line x1="702.1" y1="308.0" x2="702.1" y2="305.5" stroke="#7f7f7f" stroke-width="1"/>
<line x1="710.0" y1="308.0" x2="710.0" y2="305.5" stroke="#7f7f7f" stroke-width="1"/>
<line x1="716.8" y1="308.0" x2="716.8" y2="305.5" stroke="#7f7f7f" stroke-width="1"/>
<line x1="722.6" y1="308.0" x2="722.6" y2="305.5" stroke="#7f7f7f" stroke-width="1"/>
<line x1="727.7" y1="308.0" x2="727.7" y2="305.5" stroke="#7f7f7f" stroke-width="1"/>
<line x1="732.3" y1="308.0" x2="732.3" y2="305.5" stroke="#7f7f7f" stroke-width="1"/>
<line x1="762.5" y1="308.0" x2="762.5" y2="305.5" stroke="#7f7f7f" stroke-width="1"/>
<line x1="780.2" y1="308.0" x2="780.2" y2="305.5" stroke="#7f7f7f" stroke-width="1"/>
<line x1="792.7" y1="308.0" x2="792.7" y2="305.5" stroke="#7f7f7f" stroke-width="1"/>
<line x1="802.4" y1="308.0" x2="802.4" y2="305.5" stroke="#7f7f7f" stroke-width="1"/>
<line x1="810.3" y1="308.0" x2="810.3" y2="305.5" stroke="#7f7f7f" stroke-width="1"/>
<line x1="817.1" y1="308.0" x2="817.1" y2="305.5" stroke="#7f7f7f" stroke-width="1"/>
<line x1="822.9" y1="308.0" x2="822.9" y2="305.5" stroke="#7f7f7f" stroke-width="1"/>
<line x1="828.0" y1="308.0" x2="828.0" y2="305.5" stroke="#7f7f7f" stroke-width="1"/>
<line x1="832.6" y1="308.0" x2="832.6" y2="305.5" stroke="#7f7f7f" stroke-width="1"/>
<line x1="862.8" y1="308.0" x2="862.8" y2="305.5" stroke="#7f7f7f" stroke-width="1"/>
<line x1="880.5" y1="308.0" x2="880.5" y2="305.5" stroke="#7f7f7f" stroke-width="1"/>
<line x1="893.0" y1="308.0" x2="893.0" y2="305.5" stroke="#7f7f7f" stroke-width="1"/>
<line x1="902.7" y1="308.0" x2="902.7" y2="305.5" stroke="#7f7f7f" stroke-width="1"/>
<line x1="910.6" y1="308.0" x2="910.6" y2="305.5" stroke="#7f7f7f" stroke-width="1"/>
<line x1="917.4" y1="308.0" x2="917.4" y2="305.5" stroke="#7f7f7f" stroke-width="1"/>
<line x1="923.2" y1="308.0" x2="923.2" y2="305.5" stroke="#7f7f7f" stroke-width="1"/>
<line x1="928.3" y1="308.0" x2="928.3" y2="305.5" stroke="#7f7f7f" stroke-width="1"/>
<line x1="932.9" y1="308.0" x2="932.9" y2="305.5" stroke="#7f7f7f" stroke-width="1"/>
<line x1="963.1" y1="308.0" x2="963.1" y2="305.5" stroke="#7f7f7f" stroke-width="1"/>
<text x="680.5" y="37.7" font-size="12" fill="#7f7f7f" text-anchor="end" stroke="#7f7f7f" stroke-width="0.5">3</text>
<text x="680.5" y="82.3" font-size="12" fill="#7f7f7f" text-anchor="end" stroke="#7f7f7f" stroke-width="0.5">2</text>
<text x="680.5" y="126.9" font-size="12" fill="#7f7f7f" text-anchor="end" stroke="#7f7f7f" stroke-width="0.5">1</text>
<text x="680.5" y="171.5" font-size="12" fill="#7f7f7f" text-anchor="end" stroke="#7f7f7f" stroke-width="0.5">0</text>
<text x="678.2" y="216.1" font-size="12" fill="#7f7f7f" text-anchor="end" stroke="#7f7f7f" stroke-width="0.5">-1</text>
<text x="678.2" y="260.7" font-size="12" fill="#7f7f7f" text-anchor="end" stroke="#7f7f7f" stroke-width="0.5">-2</text>
<text x="678.2" y="305.3" font-size="12" fill="#7f7f7f" text-anchor="end" stroke="#7f7f7f" stroke-width="0.5">-3</text>
<text x="702.1" y="323.5" font-size="12" fill="#7f7f7f" text-anchor="middle" stroke="#7f7f7f" stroke-width="0.5">0.5</text>
<text x="731.3" y="323.5" font-size="12" fill="#7f7f7f" text-anchor="middle" stroke="#7f7f7f" stroke-width="0.5">1</text>
<text x="802.4" y="323.5" font-size="12" fill="#7f7f7f" text-anchor="middle" stroke="#7f7f7f" stroke-width="0.5">5</text>
<text x="831.6" y="323.5" font-size="12" fill="#7f7f7f" text-anchor="middle" stroke="#7f7f7f" stroke-width="0.5">10</text>
<text x="902.7" y="323.5" font-size="12" fill="#7f7f7f" text-anchor="middle" stroke="#7f7f7f" stroke-width="0.5">50</text>
<text x="932.9" y="323.5" font-size="12" fill="#7f7f7f" text-anchor="middle" stroke="#7f7f7f" stroke-width="0.5">100</text>
<text x="835.0" y="346.0" font-size="14" fill="#7f7f7f" text-anchor="middle" stroke="#7f7f7f" stroke-width="0.5" font-style="italic" textLength="96.0" lengthAdjust="spacingAndGlyphs">Mod. Freq (Hz)</text>
<text x="657.0" y="159.0" font-size="14" fill="#7f7f7f" text-anchor="middle" stroke="#7f7f7f" stroke-width="0.5" font-style="italic" transform="rotate(-90 657.0 159.0)" textLength="118.0" lengthAdjust="spacingAndGlyphs">Phase SB0+- (rad)</text>
<line x1="701.5" y1="53.6" x2="964.0" y2="53.6" stroke="#b4b4b4" stroke-width="1.5"/>
<line x1="701.5" y1="68.6" x2="964.0" y2="68.6" stroke="#858585" stroke-width="1.8"/>
<line x1="702.5" y1="68.0" x2="964.0" y2="68.0" stroke="#999999" stroke-width="2.2" stroke-dasharray="6 7.2"/>
<line x1="701.5" y1="98.8" x2="964.0" y2="98.8" stroke="#5c5c5c" stroke-width="1.8"/>
<line x1="702.5" y1="98.2" x2="964.0" y2="98.2" stroke="#6a6a6a" stroke-width="2.2" stroke-dasharray="6 7.2"/>
<line x1="686.0" y1="143.4" x2="968.0" y2="143.4" stroke="#8a8a8a" stroke-width="1" stroke-dasharray="4 1.6 1.2 1.6"/>
<line x1="686.0" y1="189.9" x2="968.0" y2="189.9" stroke="#8a8a8a" stroke-width="1" stroke-dasharray="4 1.6 1.2 1.6"/>
<line x1="686.0" y1="167.0" x2="968.0" y2="167.0" stroke="#8a8a8a" stroke-width="1.5"/>
<clipPath id="cc"><rect x="686" y="27" width="281.5" height="281"/></clipPath>
<g clip-path="url(#cc)">
<path d="M701.0 53.3 C701.7 53.3 700.2 53.5 705.0 53.2 C709.8 53.0 721.8 52.3 730.0 51.8 C738.2 51.2 746.3 50.6 754.5 50.0 C762.7 49.4 771.6 48.8 779.0 48.0 C786.4 47.2 793.0 46.2 799.0 45.5 C805.0 44.8 808.2 44.5 815.0 43.5 C821.8 42.5 831.8 40.9 840.0 39.7 C848.2 38.5 856.3 37.4 864.5 36.5 C872.7 35.6 882.0 34.9 889.4 34.2 C896.8 33.6 901.4 33.1 909.0 32.6 C916.6 32.1 925.8 31.7 935.0 31.3 C944.2 30.9 959.2 30.5 964.0 30.3" fill="none" stroke="#0000e8" stroke-width="1.9" />
<path d="M682.0 52.7 C685.8 52.7 697.0 52.9 705.0 52.6 C713.0 52.4 721.8 51.7 730.0 51.1 C738.2 50.6 746.3 50.0 754.5 49.4 C762.7 48.8 771.6 48.1 779.0 47.4 C786.4 46.6 793.0 45.6 799.0 44.9 C805.0 44.1 808.2 43.9 815.0 42.9 C821.8 41.9 831.8 40.3 840.0 39.1 C848.2 37.9 856.3 36.8 864.5 35.9 C872.7 35.0 882.0 34.3 889.4 33.6 C896.8 33.0 901.4 32.5 909.0 32.0 C916.6 31.5 925.8 31.1 935.0 30.7 C944.2 30.3 959.2 29.9 964.0 29.7" fill="none" stroke="#0000ff" stroke-width="3.2" stroke-dasharray="7.6 5.4" />
<path d="M701.0 81.3 C701.7 81.3 700.2 81.6 705.0 81.2 C709.8 80.9 721.8 80.1 730.0 79.2 C738.2 78.4 746.3 77.4 754.5 76.2 C762.7 75.1 771.6 73.7 779.0 72.2 C786.4 70.7 793.0 69.0 799.0 67.5 C805.0 66.0 808.2 64.8 815.0 63.0 C821.8 61.2 831.8 58.5 840.0 56.8 C848.2 55.0 856.3 53.6 864.5 52.5 C872.7 51.4 882.0 50.8 889.4 50.0 C896.8 49.2 901.4 48.6 909.0 48.0 C916.6 47.4 925.8 46.8 935.0 46.2 C944.2 45.7 959.2 45.0 964.0 44.7" fill="none" stroke="#0000e8" stroke-width="1.9" />
<path d="M682.0 80.9 C685.8 80.9 697.0 81.0 705.0 80.7 C713.0 80.3 721.8 79.5 730.0 78.7 C738.2 77.8 746.3 76.8 754.5 75.7 C762.7 74.5 771.6 73.1 779.0 71.6 C786.4 70.1 793.0 68.4 799.0 66.9 C805.0 65.4 808.2 64.2 815.0 62.4 C821.8 60.6 831.8 57.9 840.0 56.2 C848.2 54.4 856.3 53.0 864.5 51.9 C872.7 50.8 882.0 50.1 889.4 49.4 C896.8 48.6 901.4 48.0 909.0 47.4 C916.6 46.8 925.8 46.1 935.0 45.6 C944.2 45.1 959.2 44.4 964.0 44.1" fill="none" stroke="#0000ff" stroke-width="3.2" stroke-dasharray="7.6 5.4" />
<path d="M701.0 139.7 C703.3 139.6 708.5 140.0 715.0 139.0 C721.5 138.0 732.7 135.3 740.0 133.5 C747.3 131.7 753.2 130.0 759.0 128.0 C764.8 126.0 768.0 124.8 774.8 121.8 C781.6 118.8 793.0 113.2 799.7 110.0 C806.4 106.8 810.9 104.5 815.0 102.5 C819.1 100.5 820.3 99.8 824.5 98.0 C828.7 96.2 835.8 93.1 840.0 91.5 C844.2 89.9 845.9 89.6 850.0 88.5 C854.1 87.4 858.0 86.3 864.5 85.0 C871.0 83.7 881.6 81.9 889.0 80.8 C896.4 79.6 901.3 78.9 909.0 78.3 C916.7 77.7 925.8 77.4 935.0 77.0 C944.2 76.6 959.2 76.2 964.0 76.0" fill="none" stroke="#0000e8" stroke-width="1.9" />
<path d="M682.0 140.0 C687.5 139.7 705.3 139.6 715.0 138.4 C724.7 137.2 732.7 134.7 740.0 132.9 C747.3 131.1 753.2 129.4 759.0 127.4 C764.8 125.4 768.0 124.2 774.8 121.2 C781.6 118.2 793.0 112.6 799.7 109.4 C806.4 106.2 810.9 103.9 815.0 101.9 C819.1 99.9 820.3 99.2 824.5 97.4 C828.7 95.6 835.8 92.5 840.0 90.9 C844.2 89.3 845.9 89.0 850.0 87.9 C854.1 86.8 858.0 85.7 864.5 84.4 C871.0 83.1 881.6 81.3 889.0 80.2 C896.4 79.0 901.3 78.3 909.0 77.7 C916.7 77.1 925.8 76.8 935.0 76.4 C944.2 76.0 959.2 75.6 964.0 75.4" fill="none" stroke="#0000ff" stroke-width="3.2" stroke-dasharray="7.6 5.4" />
<path d="M701.0 102.1 C703.3 102.2 708.5 102.6 715.0 103.0 C721.5 103.4 732.7 104.1 740.0 104.8 C747.3 105.4 754.0 105.9 759.0 106.8 C764.0 107.6 766.7 108.8 770.0 109.7 C773.3 110.6 776.0 111.1 779.0 112.0 C782.0 112.9 785.0 114.2 788.0 115.3 C791.0 116.4 794.0 117.0 797.0 118.7 C800.0 120.4 803.2 122.7 806.2 125.5 C809.2 128.3 812.6 132.3 815.2 135.7 C817.8 139.1 819.7 142.4 822.0 145.8 C824.3 149.2 826.5 152.4 828.8 156.0 C831.0 159.6 833.2 163.4 835.5 167.3 C837.8 171.2 839.9 175.7 842.6 179.4 C845.3 183.1 848.2 186.5 851.6 189.5 C855.0 192.5 858.9 195.2 863.0 197.5 C867.1 199.8 872.4 201.6 876.5 203.1 C880.6 204.6 882.9 205.3 887.8 206.5 C892.7 207.7 899.0 209.2 905.8 210.3 C912.6 211.4 918.9 212.4 928.6 213.0 C938.3 213.6 958.1 213.8 964.0 214.0" fill="none" stroke="#d80000" stroke-width="1.9" />
<path d="M682.0 100.2 C687.5 100.6 705.3 101.7 715.0 102.4 C724.7 103.1 732.7 103.5 740.0 104.2 C747.3 104.8 754.0 105.3 759.0 106.2 C764.0 107.0 766.7 108.2 770.0 109.1 C773.3 110.0 776.0 110.5 779.0 111.4 C782.0 112.3 785.0 113.6 788.0 114.7 C791.0 115.8 794.0 116.4 797.0 118.1 C800.0 119.8 803.2 122.1 806.2 124.9 C809.2 127.7 812.6 131.7 815.2 135.1 C817.8 138.5 819.7 141.8 822.0 145.2 C824.3 148.6 826.5 151.8 828.8 155.4 C831.0 159.0 833.2 162.8 835.5 166.7 C837.8 170.6 839.9 175.1 842.6 178.8 C845.3 182.5 848.2 185.9 851.6 188.9 C855.0 191.9 858.9 194.6 863.0 196.9 C867.1 199.2 872.4 201.0 876.5 202.5 C880.6 204.0 882.9 204.7 887.8 205.9 C892.7 207.1 899.0 208.6 905.8 209.7 C912.6 210.8 918.9 211.8 928.6 212.4 C938.3 213.0 958.1 213.2 964.0 213.4" fill="none" stroke="#ff0000" stroke-width="3.2" stroke-dasharray="7.6 5.4" />
<path d="M701.0 133.5 C703.3 133.6 708.5 133.5 715.0 134.2 C721.5 135.0 732.7 136.5 740.0 138.0 C747.3 139.5 754.0 141.8 759.0 143.5 C764.0 145.2 765.9 146.4 770.0 148.1 C774.1 149.8 779.5 151.5 783.6 153.8 C787.8 156.1 791.5 159.1 794.9 161.7 C798.3 164.3 801.0 166.8 803.9 169.6 C806.8 172.4 809.3 175.6 812.0 178.5 C814.7 181.4 816.8 184.1 820.0 187.3 C823.2 190.5 827.5 194.5 831.3 197.5 C835.1 200.5 838.8 203.0 842.6 205.4 C846.4 207.8 850.1 210.2 853.9 212.1 C857.7 214.0 861.1 215.2 865.2 216.7 C869.4 218.2 873.0 219.9 878.8 221.2 C884.6 222.5 891.7 223.5 900.0 224.6 C908.3 225.7 917.9 227.2 928.6 228.0 C939.3 228.8 958.1 228.9 964.0 229.1" fill="none" stroke="#d80000" stroke-width="1.9" />
<path d="M682.0 131.8 C687.5 132.1 705.3 132.7 715.0 133.7 C724.7 134.6 732.7 135.9 740.0 137.4 C747.3 138.9 754.0 141.2 759.0 142.9 C764.0 144.6 765.9 145.8 770.0 147.5 C774.1 149.2 779.5 150.9 783.6 153.2 C787.8 155.5 791.5 158.5 794.9 161.1 C798.3 163.7 801.0 166.2 803.9 169.0 C806.8 171.8 809.3 174.9 812.0 177.9 C814.7 180.9 816.8 183.5 820.0 186.7 C823.2 189.9 827.5 193.9 831.3 196.9 C835.1 199.9 838.8 202.4 842.6 204.8 C846.4 207.2 850.1 209.6 853.9 211.5 C857.7 213.4 861.1 214.6 865.2 216.1 C869.4 217.6 873.0 219.3 878.8 220.6 C884.6 221.9 891.7 222.9 900.0 224.0 C908.3 225.1 917.9 226.7 928.6 227.4 C939.3 228.2 958.1 228.3 964.0 228.5" fill="none" stroke="#ff0000" stroke-width="3.2" stroke-dasharray="7.6 5.4" />
<path d="M701.0 194.4 C702.8 194.6 707.7 195.3 711.7 195.8 C715.7 196.3 720.9 196.8 725.2 197.6 C729.5 198.4 733.6 199.4 737.7 200.4 C741.9 201.4 746.2 202.2 750.1 203.3 C754.0 204.4 758.1 205.8 761.4 207.1 C764.7 208.3 765.9 209.2 770.0 210.8 C774.1 212.4 781.3 214.7 785.8 216.6 C790.3 218.5 793.3 220.2 797.1 222.0 C800.9 223.8 804.7 225.8 808.5 227.6 C812.3 229.4 816.4 231.4 819.8 233.0 C823.2 234.6 825.4 235.6 828.8 237.0 C832.2 238.4 836.3 240.1 840.1 241.5 C843.9 242.9 847.2 244.2 851.4 245.5 C855.5 246.8 859.7 248.3 865.0 249.5 C870.3 250.7 876.2 251.8 883.0 252.9 C889.8 254.0 898.2 255.5 905.8 256.3 C913.4 257.1 918.9 257.4 928.6 257.9 C938.3 258.4 958.1 259.1 964.0 259.3" fill="none" stroke="#d80000" stroke-width="1.9" />
<path d="M682.0 192.2 C684.7 192.4 693.0 192.9 698.0 193.4 C703.0 193.9 707.2 194.6 711.7 195.2 C716.2 195.8 720.9 196.2 725.2 197.0 C729.5 197.8 733.6 198.9 737.7 199.8 C741.9 200.8 746.2 201.6 750.1 202.7 C754.0 203.8 758.1 205.2 761.4 206.5 C764.7 207.8 765.9 208.6 770.0 210.2 C774.1 211.8 781.3 214.1 785.8 216.0 C790.3 217.9 793.3 219.6 797.1 221.4 C800.9 223.2 804.7 225.2 808.5 227.0 C812.3 228.8 816.4 230.8 819.8 232.4 C823.2 234.0 825.4 235.0 828.8 236.4 C832.2 237.8 836.3 239.5 840.1 240.9 C843.9 242.3 847.2 243.6 851.4 244.9 C855.5 246.2 859.7 247.7 865.0 248.9 C870.3 250.1 876.2 251.2 883.0 252.3 C889.8 253.4 898.2 254.9 905.8 255.7 C913.4 256.5 918.9 256.8 928.6 257.3 C938.3 257.8 958.1 258.5 964.0 258.7" fill="none" stroke="#ff0000" stroke-width="3.2" stroke-dasharray="7.6 5.4" />
</g>
<text x="803.0" y="39.5" font-size="11.5" fill="#4a3ca8" text-anchor="start" font-style="italic" font-weight="bold">4</text>
<text x="775.5" y="85.5" font-size="11.5" fill="#4a3ca8" text-anchor="start" font-style="italic" font-weight="bold">2</text>
<text x="819.5" y="119.5" font-size="11.5" fill="#4a3ca8" text-anchor="start" font-style="italic" font-weight="bold">0</text>
<text x="889.0" y="63.5" font-size="12" fill="#3e3e3e" text-anchor="start" stroke="#3e3e3e" stroke-width="0.3" font-style="italic">4</text>
<text x="874.0" y="78.8" font-size="12" fill="#3e3e3e" text-anchor="start" stroke="#3e3e3e" stroke-width="0.3" font-style="italic">2</text>
<text x="864.0" y="109.7" font-size="12" fill="#3e3e3e" text-anchor="start" stroke="#3e3e3e" stroke-width="0.3" font-style="italic">0</text>
<text x="941.0" y="211.5" font-size="12" fill="#ff2020" text-anchor="start" stroke="#ff2020" stroke-width="0.25" font-style="italic">4</text>
<text x="937.5" y="241.0" font-size="12" fill="#ff2020" text-anchor="start" stroke="#ff2020" stroke-width="0.25" font-style="italic">2</text>
<text x="932.5" y="273.0" font-size="12" fill="#ff2020" text-anchor="start" stroke="#ff2020" stroke-width="0.25" font-style="italic">0</text>
<rect x="939.5" y="186" width="8.5" height="7" fill="#000"/>
<line x1="934.5" y1="188.6" x2="939.2" y2="188.6" stroke="#333" stroke-width="1.5"/>
<ellipse cx="944.3" cy="189" rx="2.6" ry="3.1" fill="none" stroke="#333" stroke-width="1.6"/>
<line x1="944.3" y1="183.2" x2="944.3" y2="195.8" stroke="#333" stroke-width="1.4"/>
<rect x="948.3" y="191.8" width="4.2" height="3.8" fill="#333"/>
</svg>
</body></html>
